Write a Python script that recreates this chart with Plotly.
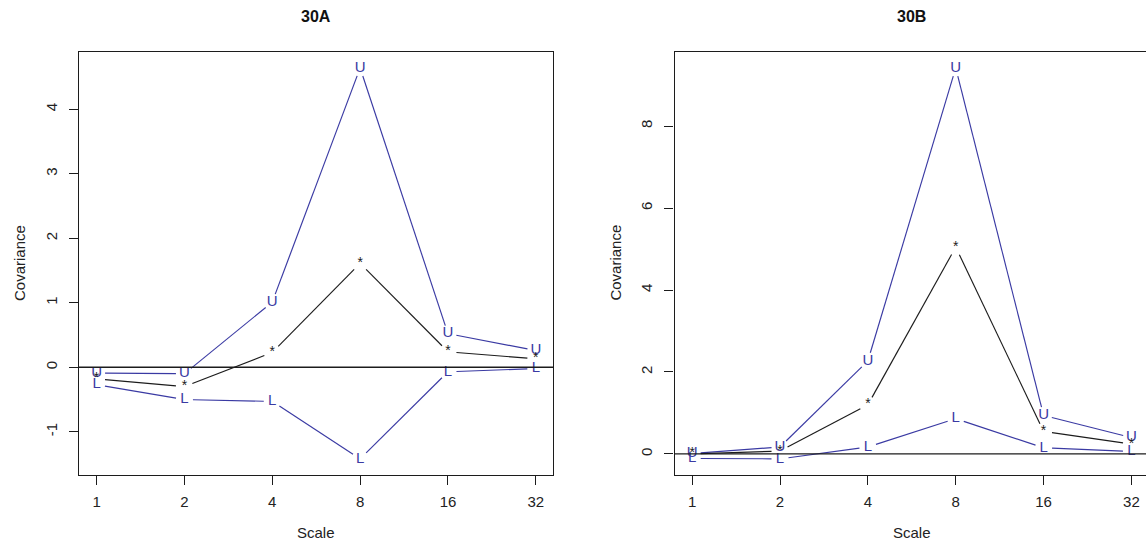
import math
import plotly.graph_objects as go

# Wavelet scales on the x axis
scales = [1, 2, 4, 8, 16, 32]
scale_labels = ["1", "2", "4", "8", "16", "32"]

# Panel 30A: upper bound, estimate, lower bound
upper_30a = [-0.09, -0.10, 1.01, 4.64, 0.52, 0.26]
est_30a = [-0.18, -0.30, 0.23, 1.61, 0.24, 0.13]
lower_30a = [-0.27, -0.50, -0.53, -1.42, -0.07, -0.02]
yticks_30a = [-1, 0, 1, 2, 3, 4]

# Panel 30B: upper bound, estimate, lower bound
upper_30b = [0.01, 0.17, 2.27, 9.42, 0.94, 0.40]
est_30b = [0.00, 0.07, 1.20, 5.05, 0.55, 0.24]
lower_30b = [-0.11, -0.12, 0.17, 0.86, 0.15, 0.06]
yticks_30b = [0, 2, 4, 6, 8]

W, H = 1146, 547
FONT = "Liberation Sans, Arial, sans-serif"
BLUE = "#3a3aa3"
INK = "#1c1c1c"
GAP = 8.5  # px left open around each plotting character

# plot boxes in page pixels: left, right, top, bottom
box_a = (79.0, 553.4, 52.3, 474.5)
box_b = (674.6, 1146.0, 52.3, 474.5)
px_per_step = (box_a[1] - box_a[0]) / 5.4  # horizontal px between adjacent scales


def r_range(*series):
    lo = min(min(s) for s in series)
    hi = max(max(s) for s in series)
    pad = 0.04 * (hi - lo)
    return [lo - pad, hi + pad]


def x_range(box):
    steps = (box[1] - box[0]) / px_per_step
    return [-0.2, -0.2 + steps]  # in log2 units, scale 1 -> 0


def gapped(xs, ys, box, xr, yr):
    """Connect points with segments shortened by GAP px at both ends (R type='b')."""
    x0, x1, top, bot = box

    def to_px(x, y):
        px = x0 + (math.log2(x) - xr[0]) / (xr[1] - xr[0]) * (x1 - x0)
        py = bot - (y - yr[0]) / (yr[1] - yr[0]) * (bot - top)
        return px, py

    def from_px(px, py):
        lx = xr[0] + (px - x0) / (x1 - x0) * (xr[1] - xr[0])
        y = yr[0] + (bot - py) / (bot - top) * (yr[1] - yr[0])
        return 2 ** lx, y

    ox, oy = [], []
    for i in range(len(xs) - 1):
        ax, ay = to_px(xs[i], ys[i])
        bx, by = to_px(xs[i + 1], ys[i + 1])
        d = math.hypot(bx - ax, by - ay)
        if d <= 2 * GAP:
            continue
        ux, uy = (bx - ax) / d, (by - ay) / d
        sx, sy = from_px(ax + ux * GAP, ay + uy * GAP)
        ex, ey = from_px(bx - ux * GAP, by - uy * GAP)
        ox += [sx, ex, None]
        oy += [sy, ey, None]
    return ox, oy


fig = go.Figure()

panels = [
    ("x", "y", box_a, [upper_30a, est_30a, lower_30a]),
    ("x2", "y2", box_b, [upper_30b, est_30b, lower_30b]),
]
chars = ["U", "*", "L"]
colors = [BLUE, INK, BLUE]
sizes = [15, 14, 15]

ranges = []
for xa, ya, box, series in panels:
    xr = x_range(box)
    yr = r_range(*series)
    ranges.append((xr, yr))
    for vals, ch, col, sz in zip(series, chars, colors, sizes):
        lx, ly = gapped(scales, vals, box, xr, yr)
        fig.add_trace(go.Scatter(
            x=lx, y=ly, mode="lines", xaxis=xa, yaxis=ya,
            line=dict(color=col, width=1.15), hoverinfo="skip", showlegend=False,
        ))
        fig.add_trace(go.Scatter(
            x=scales, y=vals, mode="text", text=[ch] * len(scales),
            textposition="middle center", xaxis=xa, yaxis=ya,
            textfont=dict(family=FONT, size=sz, color=col),
            showlegend=False,
        ))


def dom_x(box):
    return [box[0] / W, min(box[1] / W, 1.0)]


def dom_y(box):
    return [1 - box[3] / H, 1 - box[2] / H]


axis_common = dict(
    showgrid=False, zeroline=False, showline=True, linecolor=INK, linewidth=1.3,
    ticks="outside", ticklen=9, tickwidth=1.2, tickcolor=INK,
    tickfont=dict(family=FONT, size=15, color="#222222"),
)


def labels(vals):
    return [str(v) for v in vals]  # plain hyphen-minus, no unicode minus


(xra, yra), (xrb, yrb) = ranges
fig.update_layout(
    width=W, height=H, margin=dict(l=0, r=0, t=0, b=0),
    paper_bgcolor="white", plot_bgcolor="white",
    xaxis=dict(axis_common, domain=dom_x(box_a), type="log", range=[v * math.log10(2) for v in xra],
               tickvals=scales, ticktext=scale_labels, mirror=True, anchor="y",
               ticklabelstandoff=4),
    yaxis=dict(axis_common, domain=dom_y(box_a), range=yra, tickvals=yticks_30a,
               ticktext=labels(yticks_30a), tickangle=-90, mirror=True, anchor="x",
               ticklabelstandoff=6),
    xaxis2=dict(axis_common, domain=dom_x(box_b), type="log", range=[v * math.log10(2) for v in xrb],
                tickvals=scales, ticktext=scale_labels, mirror=True, anchor="y2",
                ticklabelstandoff=4),
    yaxis2=dict(axis_common, domain=dom_y(box_b), range=yrb, tickvals=yticks_30b,
                ticktext=labels(yticks_30b), tickangle=-90, mirror=False, anchor="x2",
                ticklabelstandoff=6),
)

# horizontal reference line at zero in both panels
for xd, ya in (("x domain", "y"), ("x2 domain", "y2")):
    fig.add_shape(type="line", xref=xd, yref=ya, x0=0, x1=1, y0=0, y1=0,
                  line=dict(color=INK, width=1.3))

# titles and axis labels
for box, title in ((box_a, "30A"), (box_b, "30B")):
    cx = (box[0] + (box[1] if box is box_a else 1149.0)) / 2
    fig.add_annotation(x=cx / W, y=1 - 17 / H, xref="paper", yref="paper", text=f"<b>{title}</b>",
                       showarrow=False, font=dict(family=FONT, size=16, color="#111111"),
                       xanchor="center", yanchor="middle")
    fig.add_annotation(x=cx / W, y=1 - 532 / H, xref="paper", yref="paper", text="Scale",
                       showarrow=False, font=dict(family=FONT, size=15, color="#222222"),
                       xanchor="center", yanchor="middle")
    fig.add_annotation(x=(box[0] - 59) / W, y=1 - 263 / H, xref="paper", yref="paper",
                       text="Covariance", textangle=-90, showarrow=False,
                       font=dict(family=FONT, size=15, color="#222222"),
                       xanchor="center", yanchor="middle")

fig.write_html("out.html")
